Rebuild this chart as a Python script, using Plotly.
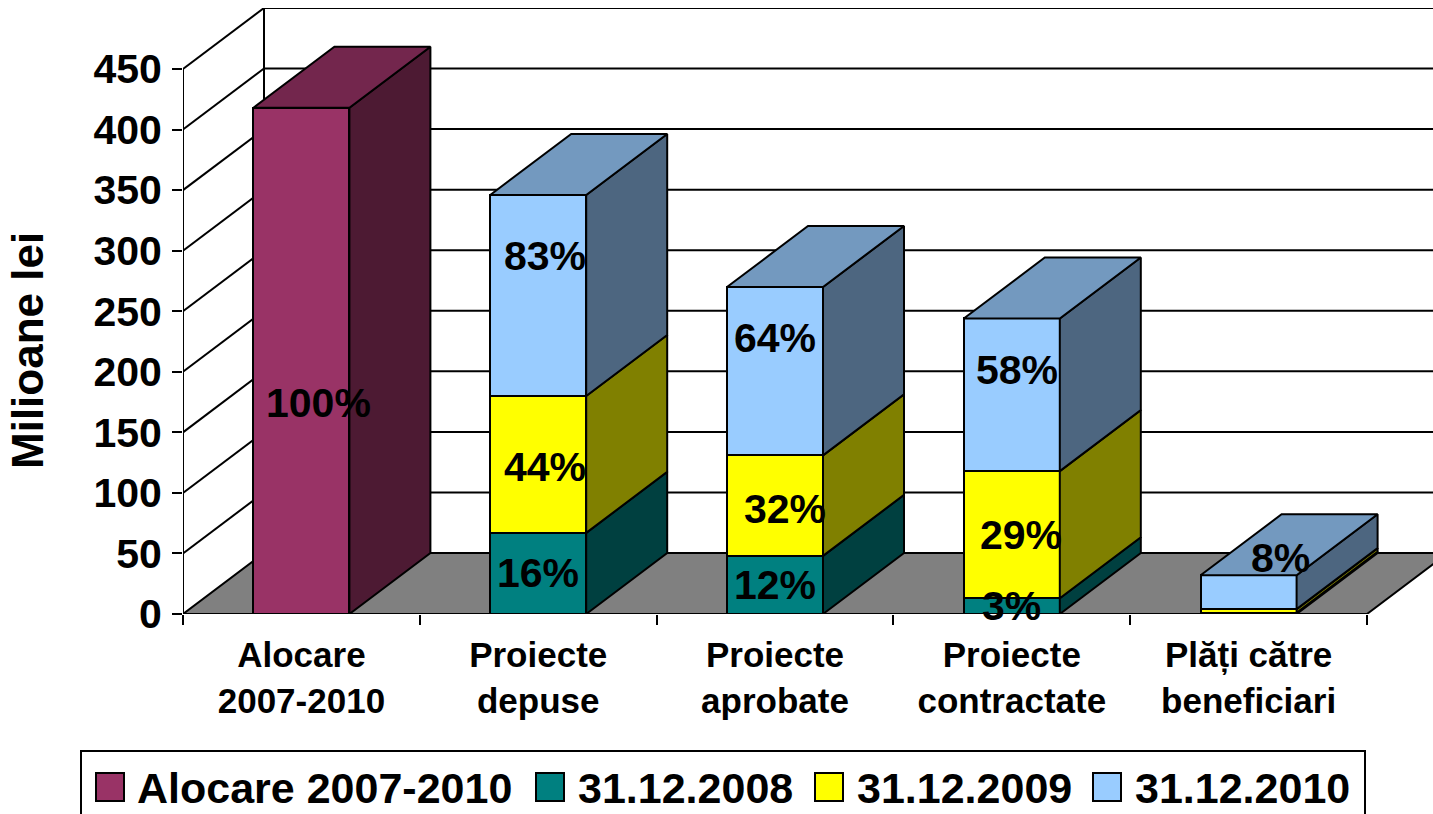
import plotly.graph_objects as go

# ---------- data ----------
categories = ["Alocare<br>2007-2010", "Proiecte<br>depuse", "Proiecte<br>aprobate",
              "Proiecte<br>contractate", "Plăți către<br>beneficiari"]
series_names = ["Alocare 2007-2010", "31.12.2008", "31.12.2009", "31.12.2010"]
alocare = [418, None, None, None, None]
s2008 = [None, 67, 48, 13, 1]
s2009 = [None, 113, 83, 105, 3]
s2010 = [None, 166, 139, 126, 28]
pct_alocare = ["100%", None, None, None, None]
pct_2008 = [None, "16%", "12%", "3%", None]
pct_2009 = [None, "44%", "32%", "29%", None]
pct_2010 = [None, "83%", "64%", "58%", "8%"]
y_ticks = [0, 50, 100, 150, 200, 250, 300, 350, 400, 450]

# ---------- style / layout ----------
W, H = 1433, 814
L, T, B = 183, 8, 614
PX_X = 236.8            # pixels per category
PX_Y = 545 / 450        # pixels per unit
DX = 81 / PX_X          # 3-D depth in axis units
DY = 61 / PX_Y
BAR_W = 96 / PX_X
XMAX = (W - L) / PX_X
YMAX = (B - T) / PX_Y
FONT = "Liberation Sans"
colors = ["#993366", "#008080", "#FFFF00", "#99CCFF"]
sides = ["#4D1A33", "#004040", "#808000", "#4D6680"]
tops = ["#73264D", "#006060", "#BFBF00", "#7399BF"]
LW = 2
# label nudges (px) - Excel's 3-D labels sit off the segment centres
shift_alocare = [(17, -42)] * 5
shift_2008 = [(0, 0), (0, 0), (0, 0), (0, 0), (0, 0)]
shift_2009 = [(0, 0), (7, -3), (10, -3), (9, 0), (0, 0)]
shift_2010 = [(0, 0), (7, 39), (0, 33), (5, 25), (32, 34)]

all_series = [alocare, s2008, s2009, s2010]
all_pct = [pct_alocare, pct_2008, pct_2009, pct_2010]
all_shift = [shift_alocare, shift_2008, shift_2009, shift_2010]
xc = [i + 0.5 for i in range(len(categories))]


def bold(size):
    return dict(family=FONT, size=size, color="black", weight=700)


fig = go.Figure()
for name, vals, col in zip(series_names, all_series, colors):
    fig.add_trace(go.Bar(x=xc, y=vals, name=name, width=BAR_W, showlegend=False,
                         marker=dict(color=col, line=dict(color="black", width=LW))))


def poly(xs, ys, fill):
    fig.add_trace(go.Scatter(x=xs + xs[:1], y=ys + ys[:1], mode="lines", fill="toself",
                             fillcolor=fill, line=dict(color="black", width=LW),
                             showlegend=False, hoverinfo="skip"))


annotations = []
for i, c in enumerate(xc):
    base = 0
    xl, xr = c - BAR_W / 2, c + BAR_W / 2
    last = None
    for k, vals in enumerate(all_series):
        v = vals[i]
        if v is None:
            continue
        top = base + v
        poly([xr, xr + DX, xr + DX, xr], [base, base + DY, top + DY, top], sides[k])
        if all_pct[k][i]:
            sx, sy = all_shift[k][i]
            annotations.append(dict(x=c, y=base + v / 2, xref="x", yref="y", text=all_pct[k][i],
                                    showarrow=False, xshift=sx, yshift=sy, font=bold(41)))
        base = top
        last = k
    poly([xl, xr, xr + DX, xl + DX], [base, base, base + DY, base + DY], tops[last])

# walls and floor sit under the traces
line = dict(color="black", width=LW)
shapes = [dict(type="path", layer="below", xref="x", yref="y", fillcolor="#808080", line=line,
               path=f"M0,0 L{DX},{DY} L{5 + DX},{DY} L5,0 Z")]
for v in y_ticks[1:]:
    shapes.append(dict(type="line", layer="below", xref="x", yref="y", x0=0, y0=v, x1=DX, y1=v + DY, line=line))
    shapes.append(dict(type="line", layer="below", xref="x", yref="y", x0=DX, y0=v + DY, x1=XMAX, y1=v + DY, line=line))
shapes.append(dict(type="line", layer="below", xref="x", yref="y", x0=DX, y0=DY, x1=DX, y1=450 + DY, line=line))
shapes.append(dict(type="line", layer="below", xref="x", yref="y", x0=0, y0=0, x1=0, y1=450, line=line))


# legend box, drawn in page pixels
def px(x):
    return (x - L) / (W - L)


def py(y):
    return (B - y) / (B - T)


shapes.append(dict(type="rect", xref="paper", yref="paper", x0=px(81), x1=px(1365), y0=py(751), y1=py(830),
                   line=dict(color="black", width=2), fillcolor="white", layer="above"))
swatch_x = [96, 536, 815, 1093]
text_x = [135, 576, 855, 1133]
for name, col, sx, tx in zip(series_names, colors, swatch_x, text_x):
    shapes.append(dict(type="rect", xref="paper", yref="paper", x0=px(sx), x1=px(sx + 28), y0=py(773), y1=py(801),
                       fillcolor=col, line=line, layer="above"))
    annotations.append(dict(x=px(tx), y=py(788), xref="paper", yref="paper", text=name, showarrow=False,
                            xanchor="left", yanchor="middle", font=bold(43)))

annotations.append(dict(x=px(27), y=py(351), xref="paper", yref="paper", text="Milioane lei", textangle=-90,
                        xanchor="center", yanchor="middle", showarrow=False, font=bold(44)))

fig.update_layout(
    width=W, height=H, autosize=False, barmode="stack", paper_bgcolor="white", plot_bgcolor="white",
    margin=dict(l=L, r=0, t=T, b=H - B, pad=0), showlegend=False, shapes=shapes, annotations=annotations,
    xaxis=dict(range=[0, XMAX], tickmode="array", tickvals=xc, ticktext=categories, ticks="", showgrid=False,
               zeroline=False, showline=False, tickangle=0, ticklabelstandoff=17, tickfont=bold(35),
               minor=dict(tickmode="array", tickvals=[0, 1, 2, 3, 4, 5], ticks="outside", ticklen=10, tickwidth=2,
                          tickcolor="black", showgrid=False)),
    yaxis=dict(range=[0, YMAX], tickmode="array", tickvals=y_ticks, ticks="outside", ticklen=10, tickwidth=2,
               tickcolor="black", showgrid=False, zeroline=False, showline=False, ticklabelstandoff=2,
               tickfont=bold(41)),
)
fig.write_html("out.html", post_script="document.body.style.margin='0';",
               config=dict(displayModeBar=False))
